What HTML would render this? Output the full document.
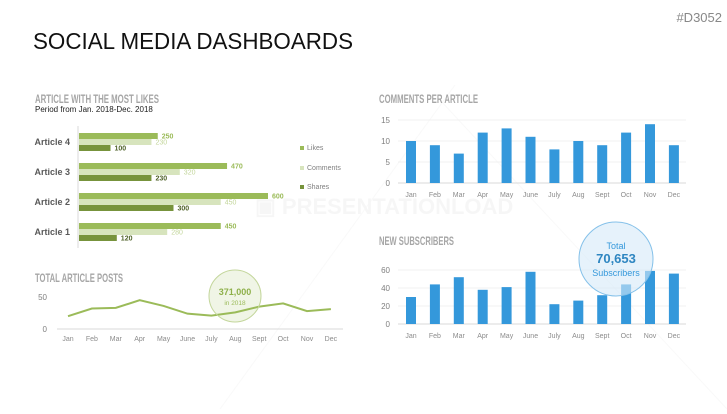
<!DOCTYPE html>
<html><head><meta charset="utf-8"><style>
body{margin:0;width:727px;height:409px;background:#fff;overflow:hidden;font-family:"Liberation Sans",sans-serif}
svg text{font-family:"Liberation Sans",sans-serif}
.sec{font-weight:bold;fill:#a6a6a6;font-size:12px}
.tick{fill:#8c8c8c;font-size:7px}
</style></head><body>
<svg id="s" width="727" height="409">
<g opacity="0.35">
<line x1="455" y1="85" x2="220" y2="409" stroke="#eee"/>
<line x1="440" y1="100" x2="727" y2="409" stroke="#eee"/>
<text x="255" y="214" font-size="22" font-weight="bold" fill="#e8e8e8">▣ PRESENTATIONLOAD</text>
</g>
<text x="33" y="49" font-size="23" fill="#111" textLength="320" lengthAdjust="spacingAndGlyphs">SOCIAL MEDIA DASHBOARDS</text>
<text x="722" y="22" font-size="13" fill="#888" text-anchor="end">#D3052</text>
<text x="35" y="103" class="sec" textLength="124" lengthAdjust="spacingAndGlyphs">ARTICLE WITH THE MOST LIKES</text>
<text x="35" y="112" font-size="8" fill="#222">Period from Jan. 2018-Dec. 2018</text>
<text x="35" y="282" class="sec" textLength="88" lengthAdjust="spacingAndGlyphs">TOTAL ARTICLE POSTS</text>
<text x="379" y="103" class="sec" textLength="99" lengthAdjust="spacingAndGlyphs">COMMENTS PER ARTICLE</text>
<text x="379" y="245" class="sec" textLength="75" lengthAdjust="spacingAndGlyphs">NEW SUBSCRIBERS</text>
<g id="g"></g>
</svg>
<script>
const articles=["Article 1","Article 2","Article 3","Article 4"];
const likes=[450,600,470,250];
const comments=[280,450,320,230];
const shares=[120,300,230,100];
const months=["Jan","Feb","Mar","Apr","May","June","July","Aug","Sept","Oct","Nov","Dec"];
const posts=[20,32,33,45,36,24,21,26,35,40,28,31];
const postTicks=[0,50];
const commentsPer=[10,9,7,12,13,11,8,10,9,12,14,9];
const commentTicks=[0,5,10,15];
const subscribers=[30,44,52,38,41,58,22,26,32,44,59,56];
const subTicks=[0,20,40,60];

const NS="http://www.w3.org/2000/svg",g=document.getElementById('g');
function el(t,a,txt){const e=document.createElementNS(NS,t);for(const k in a)e.setAttribute(k,a[k]);if(txt!=null)e.textContent=txt;g.appendChild(e);return e;}

// horizontal bar chart
const bx=v=>79+v*0.315, by=i=>232-i*30;
let e=el('line',{x1:78,y1:126,x2:78,y2:248,stroke:'#d9d9d9'});

const series=[[likes,'#9bbb59',-9,'#9bbb59','likes'],[comments,'#d7e4bd',-3,'#c3d69b','comments'],[shares,'#77933c',3,'#4f6228','shares']];
articles.forEach((a,i)=>{
  e=el('text',{x:70,y:by(i)+3,'font-size':9,'font-weight':'bold',fill:'#595959','text-anchor':'end'},a);
  
  series.forEach(s=>{
    const v=s[0][i];
    e=el('rect',{x:79,y:by(i)+s[2],width:bx(v)-79,height:6,fill:s[1]});
    
    e=el('text',{x:bx(v)+4,y:by(i)+s[2]+5.5,'font-size':7,'font-weight':s[4]=='comments'?'normal':'bold',fill:s[3]},v);
    
  });
});
[['Likes','#9bbb59',150],['Comments','#d7e4bd',170],['Shares','#77933c',189]].forEach(l=>{
  e=el('rect',{x:300,y:l[2]-4,width:4,height:4,fill:l[1]});
  
  e=el('text',{x:307,y:l[2],'font-size':7,fill:'#7f7f7f'},l[0]);
  
});

// line chart
const lx=i=>68+i*23.9, ly=v=>329-v*0.64;
e=el('line',{x1:57,y1:329,x2:343,y2:329,stroke:'#d9d9d9'});

postTicks.forEach(t=>{e=el('text',{x:47,y:ly(t)+3,'font-size':8,fill:'#7f7f7f','text-anchor':'end'},t);
  });
months.forEach((m,i)=>{e=el('text',{x:lx(i),y:341,class:'tick','text-anchor':'middle'},m);
  });
e=el('polyline',{points:posts.map((v,i)=>lx(i)+','+ly(v)).join(' '),fill:'none',stroke:'#9bbb59','stroke-width':2});

e=el('circle',{cx:235,cy:296,r:26,fill:'#9bbb59','fill-opacity':0.15,stroke:'#c3d69b'});

e=el('text',{x:235,y:295,'font-size':9,'font-weight':'bold',fill:'#8eb04a','text-anchor':'middle'},'371,000');

e=el('text',{x:235,y:305,'font-size':6.5,fill:'#9bbb59','text-anchor':'middle'},'in 2018');


// column charts
function cols(vals,ticks,zero,scale,labelY,name){
  const cx=i=>411+i*23.9, cy=v=>zero-v*scale;
  ticks.forEach(t=>{
    e=el('line',{x1:398,y1:cy(t),x2:686,y2:cy(t),stroke:t?'#f0f0f0':'#d9d9d9'});
    
    e=el('text',{x:390,y:cy(t)+3,'font-size':8,fill:'#7f7f7f','text-anchor':'end'},t);
    
  });
  vals.forEach((v,i)=>{
    e=el('rect',{x:cx(i)-5,y:cy(v),width:10,height:v*scale,fill:'#3498db'});
    
    e=el('text',{x:cx(i),y:labelY,class:'tick','text-anchor':'middle'},months[i]);
    
  });
}
cols(commentsPer,commentTicks,183,4.2,197,'comments');
cols(subscribers,subTicks,324,0.9,338,'subscribers');
e=el('circle',{cx:616,cy:259,r:37,fill:'#d6eaf8','fill-opacity':0.6,stroke:'#85c1e9'});

e=el('text',{x:616,y:249,'font-size':9,fill:'#3498db','text-anchor':'middle'},'Total');

e=el('text',{x:616,y:263,'font-size':13,'font-weight':'bold',fill:'#2e86c1','text-anchor':'middle'},'70,653');

e=el('text',{x:616,y:276,'font-size':9,fill:'#3498db','text-anchor':'middle'},'Subscribers');

</script>
</body></html>
